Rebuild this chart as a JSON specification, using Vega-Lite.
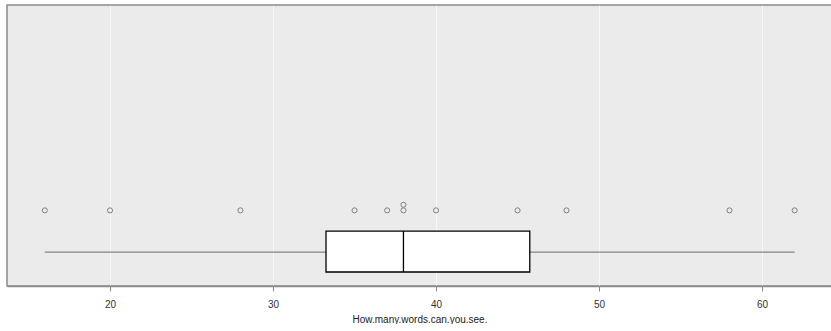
{
  "$schema": "https://vega.github.io/schema/vega-lite/v6.json",
  "width": 825,
  "height": 281,
  "padding": {"left": 7, "top": 5, "right": 0, "bottom": 0},
  "background": "white",
  "config": {
    "view": {"fill": "#EBEBEB", "stroke": "#8a8a8a", "strokeWidth": 1.5},
    "font": "Liberation Sans"
  },
  "data": {
    "values": [
      {"words": 16}, {"words": 20}, {"words": 28}, {"words": 35},
      {"words": 37}, {"words": 38}, {"words": 38}, {"words": 40},
      {"words": 45}, {"words": 48}, {"words": 58}, {"words": 62}
    ]
  },
  "layer": [
    {
      "transform": [
        {"aggregate": [
          {"op": "min", "field": "words", "as": "lo"},
          {"op": "max", "field": "words", "as": "hi"}
        ]}
      ],
      "mark": {"type": "rule", "color": "#333333", "strokeWidth": 0.7},
      "encoding": {
        "x": {
          "field": "lo", "type": "quantitative",
          "scale": {"domain": [13.68, 64.29], "nice": false, "zero": false},
          "axis": {
            "title": "How.many.words.can.you.see.",
            "values": [20, 30, 40, 50, 60],
            "grid": true, "gridColor": "#ffffff", "gridWidth": 1, "gridOpacity": 0.6,
            "domainColor": "#8a8a8a", "domainWidth": 1.5,
            "tickColor": "#8a8a8a", "tickSize": 5, "tickWidth": 1,
            "labelColor": "#333333", "labelFontSize": 10, "labelPadding": 8,
            "titleColor": "#222222", "titleFontSize": 10, "titleFontWeight": "normal", "titlePadding": 5
          }
        },
        "x2": {"field": "hi"},
        "y": {
          "datum": -6.45, "type": "quantitative",
          "scale": {"domain": [-12.5, 37.66], "nice": false, "zero": false},
          "axis": null
        }
      }
    },
    {
      "transform": [
        {"aggregate": [
          {"op": "q1", "field": "words", "as": "q1"},
          {"op": "q3", "field": "words", "as": "q3"}
        ]}
      ],
      "mark": {"type": "rect", "fill": "white", "stroke": "black", "strokeWidth": 1.3},
      "encoding": {
        "x": {"field": "q1", "type": "quantitative"},
        "x2": {"field": "q3"},
        "y": {"datum": -10.0, "type": "quantitative"},
        "y2": {"datum": -2.7}
      }
    },
    {
      "transform": [
        {"aggregate": [{"op": "median", "field": "words", "as": "med"}]}
      ],
      "mark": {"type": "rule", "color": "black", "strokeWidth": 1.3},
      "encoding": {
        "x": {"field": "med", "type": "quantitative"},
        "y": {"datum": -10.0, "type": "quantitative"},
        "y2": {"datum": -2.7}
      }
    },
    {
      "transform": [
        {"window": [{"op": "row_number", "as": "stackpos"}], "groupby": ["words"]}
      ],
      "mark": {"type": "point", "filled": false, "color": "#7f7f7f", "strokeWidth": 1, "size": 26, "opacity": 1},
      "encoding": {
        "x": {"field": "words", "type": "quantitative"},
        "y": {"field": "stackpos", "type": "quantitative"}
      }
    }
  ]
}
